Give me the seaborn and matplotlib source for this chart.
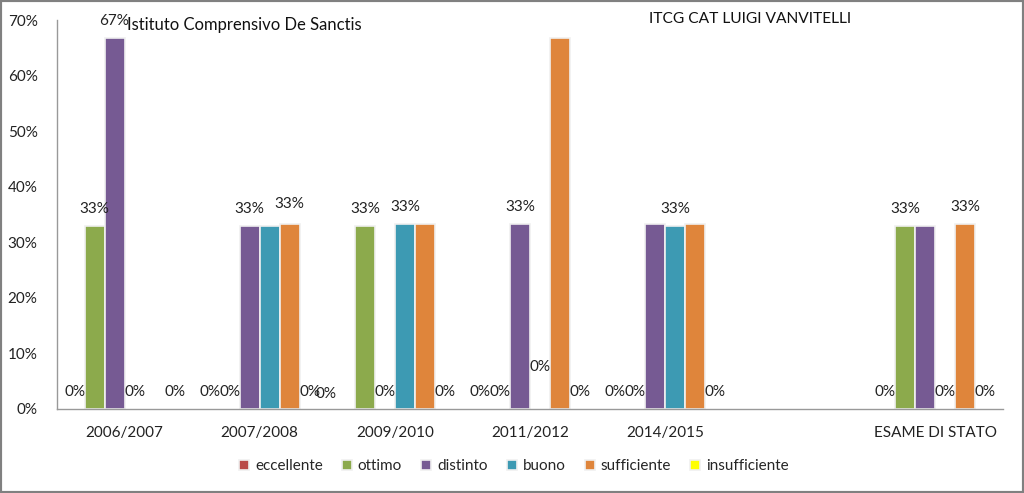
import numpy as np
import pandas as pd
import matplotlib
matplotlib.use("Agg")
import matplotlib.pyplot as plt
from matplotlib.patches import Rectangle
import seaborn as sns

# ---- data ----
categories = ["2006/2007", "2007/2008", "2009/2010", "2011/2012", "2014/2015", " ", "ESAME DI STATO"]
series = ["eccellente", "ottimo", "distinto", "buono", "sufficiente", "insufficiente"]
nan = np.nan
eccellente    = [0.0,   0.0,   0.0,   0.0,   0.0,   nan, 0.0]
ottimo        = [0.33,  0.0,   0.33,  0.0,   0.0,   nan, 0.33]
distinto      = [0.667, 0.33,  0.0,   0.333, 0.333, nan, 0.33]
buono         = [0.0,   0.33,  0.333, 0.0,   0.33,  nan, 0.0]
sufficiente   = [nan,   0.333, 0.333, 0.667, 0.333, nan, 0.333]
insufficiente = [0.0,   0.0,   0.0,   0.0,   0.0,   nan, 0.0]
colors = ["#B94A48", "#8CAA4C", "#765A93", "#3D9AB3", "#DF853B", "#FFFF00"]
title_left = "Istituto Comprensivo De Sanctis"
title_right = "ITCG CAT LUIGI VANVITELLI"
yticks = [0, 0.1, 0.2, 0.3, 0.4, 0.5, 0.6, 0.7]

# labels that are not shown in the reference
hidden_labels = {("2007/2008", "buono"), ("2009/2010", "sufficiente"),
                 ("2011/2012", "sufficiente"), ("2014/2015", "distinto"),
                 ("2014/2015", "sufficiente"), ("ESAME DI STATO", "distinto")}
# labels moved by hand in the reference (pixel offsets)
moved_labels = {("2009/2010", "eccellente"): (-19, -2),
                ("2011/2012", "buono"): (0, 25),
                ("2007/2008", "sufficiente"): (0, 3)}

vals = [eccellente, ottimo, distinto, buono, sufficiente, insufficiente]
rows = []
for s, v in zip(series, vals):
    for c, x in zip(categories, v):
        rows.append({"cat": c, "series": s, "value": x})
df = pd.DataFrame(rows)

sns.set_theme(style="white")
font = ["Lato", "DejaVu Sans"]
plt.rcParams["font.family"] = font

fig = plt.figure(figsize=(10.24, 4.93), dpi=100)
ax_l, ax_r, ax_b, ax_t = 57, 1003, 409, 20
ax = fig.add_axes([ax_l/1024, 1-ax_b/493, (ax_r-ax_l)/1024, (ax_b-ax_t)/493])

sns.barplot(data=df.dropna(), x="cat", y="value", hue="series",
            order=categories, hue_order=series, palette=colors, saturation=1,
            width=0.889, edgecolor="#f0f0f0", linewidth=1.2, ax=ax, errorbar=None)

ax.set_ylim(0, 0.7)
ax.set_yticks(yticks)
ax.set_yticklabels([f"{int(round(t*100))}%" for t in yticks])
ax.set_xlabel("")
ax.set_ylabel("")
ax.tick_params(axis="y", length=0, pad=14, labelsize=11, colors="#222222")
ax.tick_params(axis="x", length=0, pad=12, labelsize=11, colors="#222222")
for sp in ["top", "right"]:
    ax.spines[sp].set_visible(False)
for sp in ["left", "bottom"]:
    ax.spines[sp].set_color("#999999")
    ax.spines[sp].set_linewidth(1)

# data labels
for s, cont in zip(series, ax.containers):
    sub = df[(df.series == s)].dropna()
    sub = sub.set_index("cat").reindex([c for c in categories if c in set(sub.cat)])
    for bar, (c, r) in zip(cont, sub.iterrows()):
        if bar.get_height() == 0:
            bar.set_linewidth(0)
        if (c, s) in hidden_labels:
            continue
        dx, dy = moved_labels.get((c, s), (0, 0))
        ax.annotate(f"{r.value:.0%}", (bar.get_x() + bar.get_width()/2, bar.get_height()),
                    xytext=(dx, 17 + dy), textcoords="offset pixels",
                    ha="center", va="center", fontsize=11, color="#222222",
                    annotation_clip=False)

leg_x = (514 - ax_l) / (ax_r - ax_l)
leg_y = (ax_b - 466) / (ax_b - ax_t)
sns.move_legend(ax, "center", bbox_to_anchor=(leg_x, leg_y),
                ncol=6, frameon=False, title=None, fontsize=11,
                handlelength=0.65, handleheight=0.65, handletextpad=0.4, columnspacing=1.25)

fig.text(127/1024, 1-25/493, title_left, ha="left", va="center", fontsize=12, color="#111111")
fig.text(750/1024, 1-19/493, title_right, ha="center", va="center", fontsize=11.2, color="#111111")

fig.patches.append(Rectangle((0, 0), 1, 1, transform=fig.transFigure, fill=False,
                             edgecolor="#808080", linewidth=3, zorder=10))

fig.savefig("out.png", dpi=100)
